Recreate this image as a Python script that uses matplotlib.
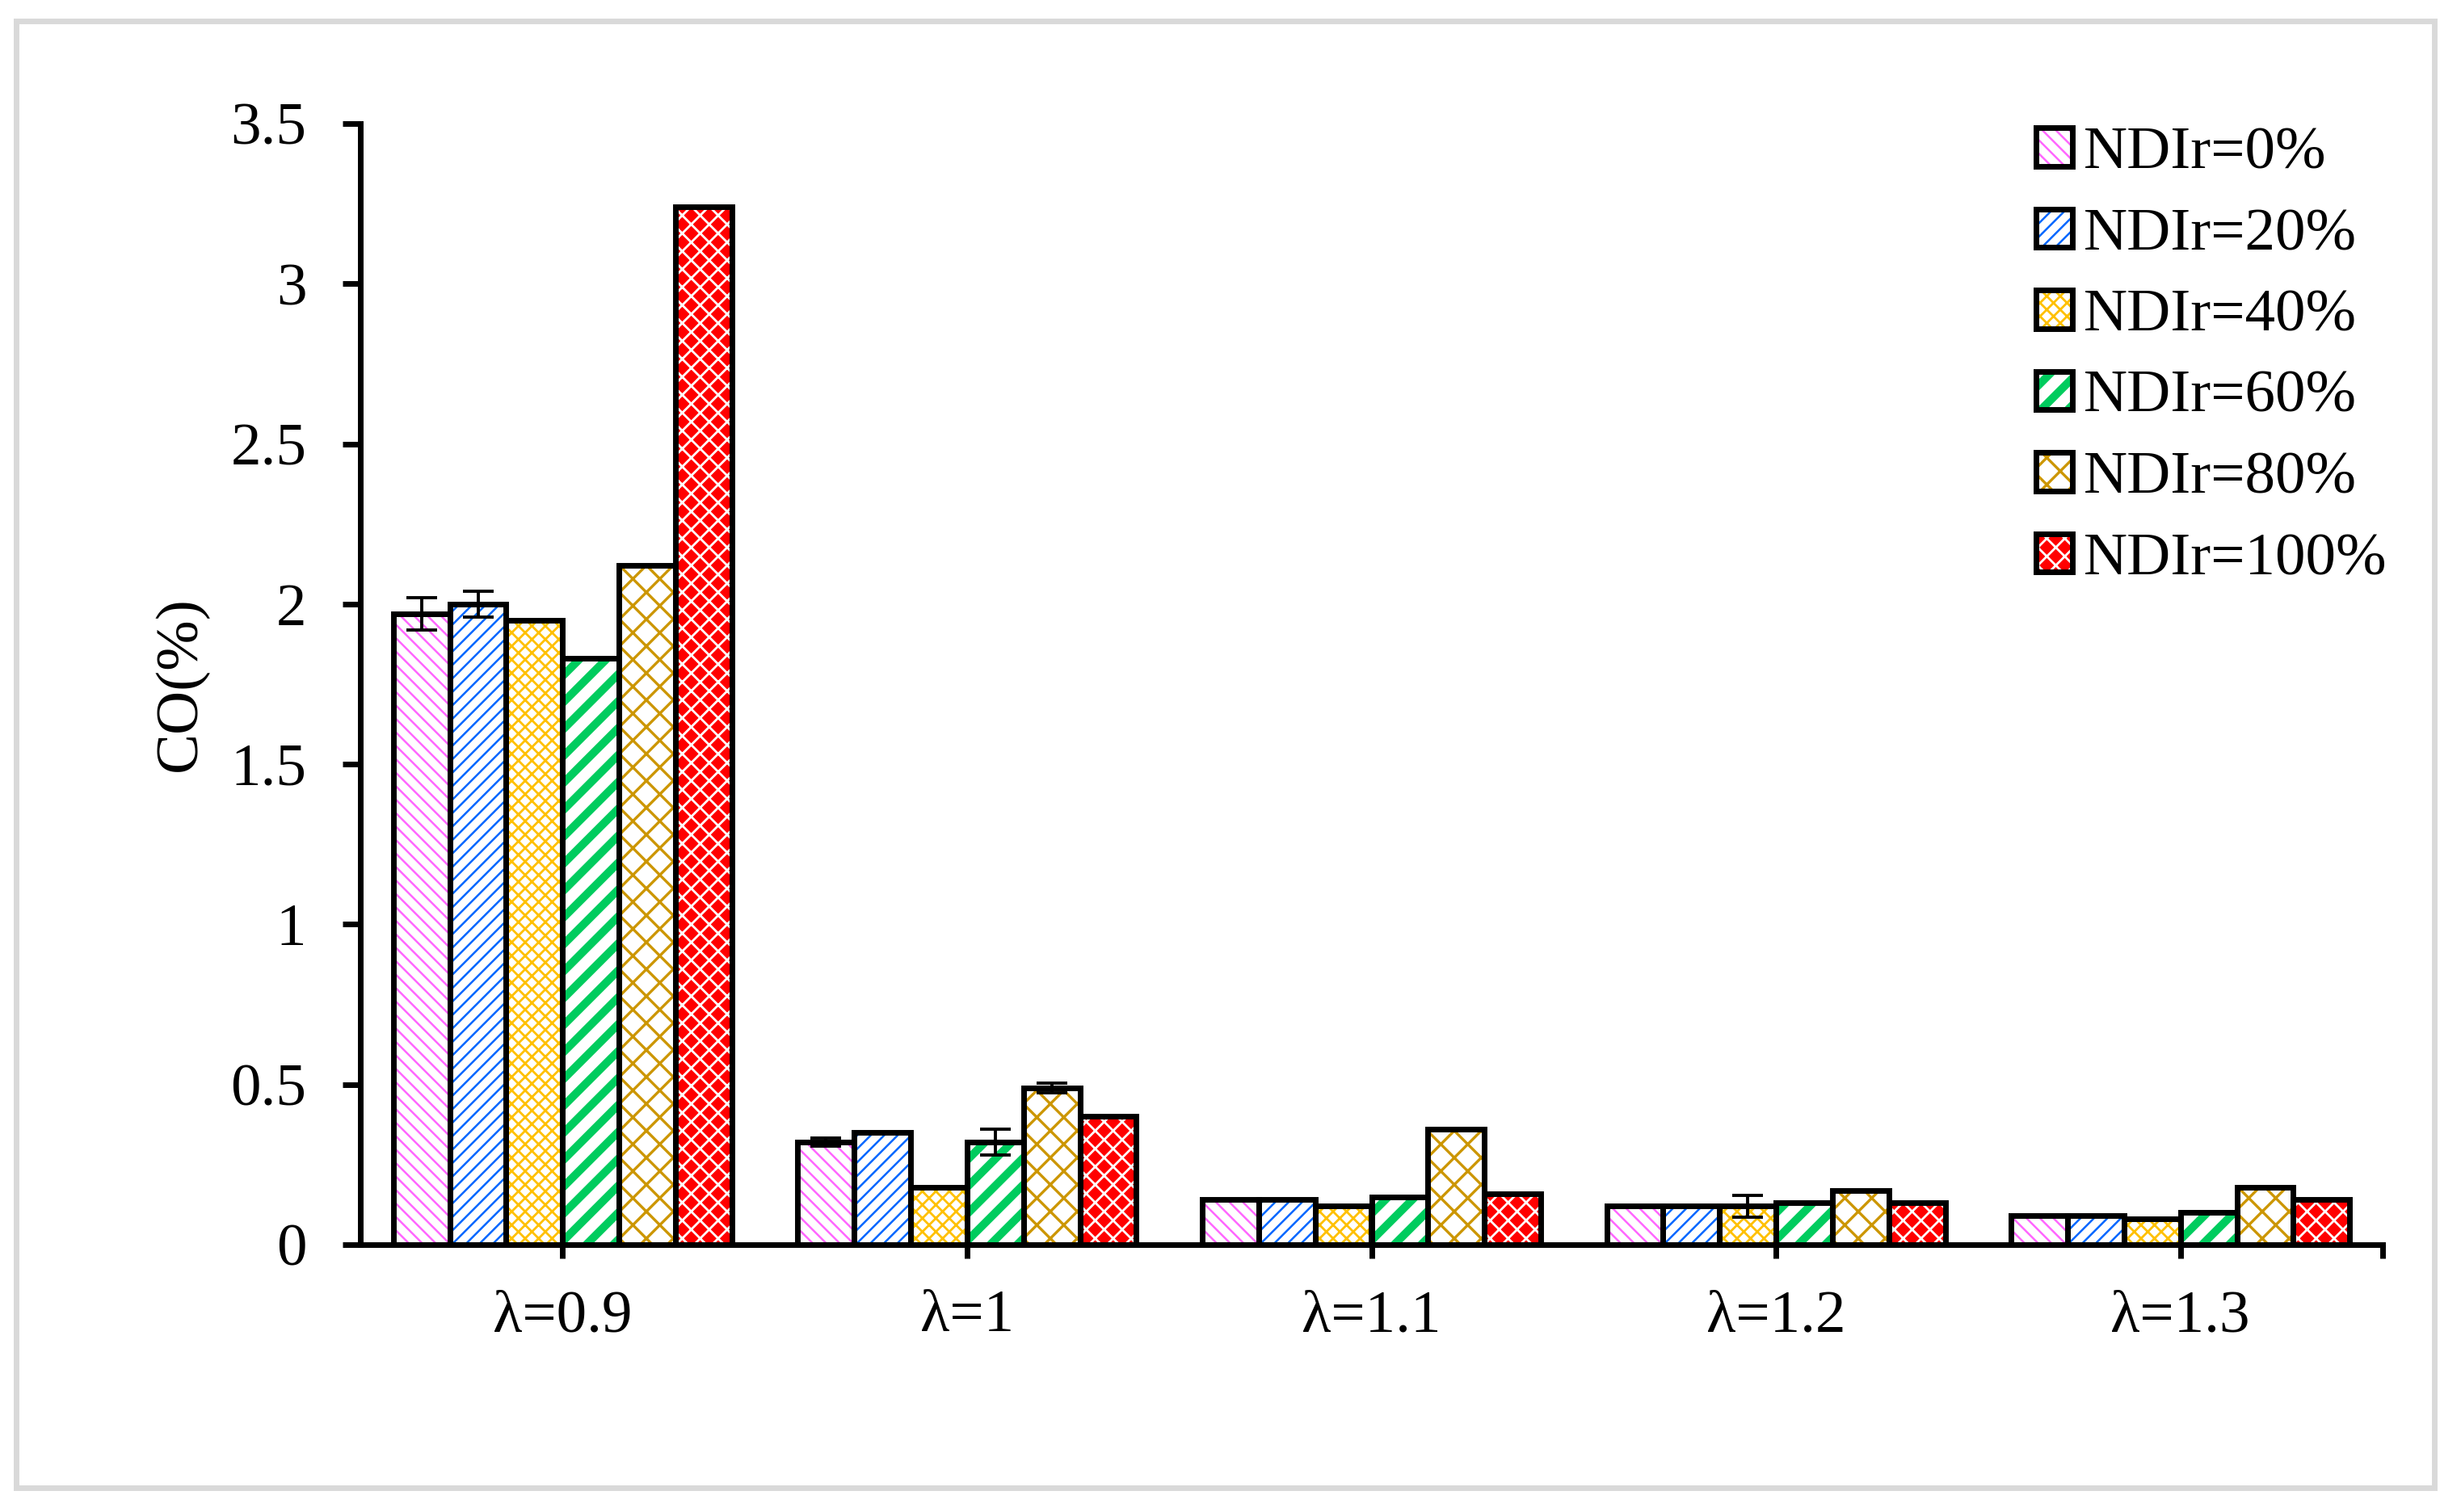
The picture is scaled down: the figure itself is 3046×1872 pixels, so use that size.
import matplotlib
matplotlib.use("Agg")
from matplotlib import pyplot as plt
from matplotlib.patches import Rectangle, Patch
from matplotlib.legend_handler import HandlerTuple, HandlerPatch
import numpy as np


categories = ["λ=0.9", "λ=1", "λ=1.1", "λ=1.2", "λ=1.3"]
series_names = ["NDIr=0%", "NDIr=20%", "NDIr=40%", "NDIr=60%", "NDIr=80%", "NDIr=100%"]

co_ndir0 = [1.97, 0.32, 0.14, 0.12, 0.09]
co_ndir20 = [2.00, 0.35, 0.14, 0.12, 0.09]
co_ndir40 = [1.95, 0.18, 0.12, 0.12, 0.08]
co_ndir60 = [1.83, 0.32, 0.15, 0.13, 0.10]
co_ndir80 = [2.12, 0.49, 0.36, 0.17, 0.18]
co_ndir100 = [3.24, 0.40, 0.16, 0.13, 0.14]

err_ndir0 = [0.05, 0.012, 0, 0, 0]
err_ndir20 = [0.04, 0, 0, 0, 0]
err_ndir40 = [0, 0, 0, 0.035, 0]
err_ndir60 = [0, 0.04, 0, 0, 0]
err_ndir80 = [0, 0.015, 0, 0, 0]
err_ndir100 = [0, 0, 0, 0, 0]

y_ticks = [0, 0.5, 1, 1.5, 2, 2.5, 3, 3.5]
y_tick_labels = ["0", "0.5", "1", "1.5", "2", "2.5", "3", "3.5"]

all_values = [co_ndir0, co_ndir20, co_ndir40, co_ndir60, co_ndir80, co_ndir100]
all_errors = [err_ndir0, err_ndir20, err_ndir40, err_ndir60, err_ndir80, err_ndir100]

# pattern fill styles (hatch colour, face colour, hatch, hatch width)
hatch_colors = ["#ff66ff", "#0066ff", "#ffc000", "#00cc5e", "#cc9600", "white"]
face_colors = ["white", "white", "white", "white", "white", "#ff0000"]
hatches = ["\\\\\\\\", "////", "xxxx", "//", "xx", "xxx"]
hatch_widths = [0.9, 0.9, 1.0, 3.6, 1.2, 1.0]

plt.rcParams["font.family"] = ["Liberation Serif", "DejaVu Serif"]
FS = 27
EDGE = 2.5


def with_hatch_width(patch, lw):
    # per-patch hatch line width, works whether or not the patch supports it
    if hasattr(patch, "set_hatch_linewidth"):
        patch.set_hatch_linewidth(lw)
    orig = patch.draw

    def draw(renderer):
        with plt.rc_context({"hatch.linewidth": lw}):
            orig(renderer)
    patch.draw = draw
    return patch


class HatchHandler(HandlerPatch):
    def __init__(self, lw):
        super().__init__()
        self.lw = lw

    def create_artists(self, legend, orig_handle, xdescent, ydescent, width, height, fontsize, trans):
        arts = super().create_artists(legend, orig_handle, xdescent, ydescent, width, height, fontsize, trans)
        for a in arts:
            with_hatch_width(a, self.lw)
        return arts


fig = plt.figure(figsize=(3046 / 200, 1872 / 200), dpi=200)
ax = fig.add_axes([446 / 3046, 1 - 1541 / 1872, (2949 - 446) / 3046, (1541 - 153) / 1872])

x = np.arange(len(categories))
w = 0.1395
handles = []
handler_map = {tuple: HandlerTuple(ndivide=1, pad=0)}
for i in range(len(series_names)):
    pos = x + (i - 2.5) * w
    hb = ax.bar(pos, all_values[i], w, color=face_colors[i], edgecolor=hatch_colors[i],
                hatch=hatches[i], linewidth=0, zorder=2)
    for p in hb:
        with_hatch_width(p, hatch_widths[i])
    ax.bar(pos, all_values[i], w, fill=False, edgecolor="black", linewidth=EDGE, zorder=3)
    ax.errorbar(pos, all_values[i], yerr=all_errors[i], fmt="none", ecolor="black",
                elinewidth=1.4, capsize=6.8, capthick=1.4, zorder=4)

    hp = Patch(facecolor=face_colors[i], edgecolor=hatch_colors[i], hatch=hatches[i], linewidth=0)
    op = Patch(fill=False, edgecolor="black", linewidth=EDGE)
    handler_map[hp] = HatchHandler(hatch_widths[i])
    handles.append((hp, op))

ax.set_xlim(-0.5, 4.5)
ax.set_ylim(0, 3.5)
ax.set_yticks(y_ticks)
ax.set_yticklabels(y_tick_labels)
ax.set_xticks(x)
ax.set_xticklabels(categories)
ax.set_xticks([4.5], minor=True)

for s in ["top", "right"]:
    ax.spines[s].set_visible(False)
for s in ["left", "bottom"]:
    ax.spines[s].set_linewidth(EDGE)
    ax.spines[s].set_zorder(5)

ax.tick_params(axis="y", length=8, width=EDGE, pad=16, labelsize=FS)
ax.tick_params(axis="x", which="both", length=6, width=EDGE, pad=14, labelsize=FS)

ax.set_ylabel("CO(%)", fontsize=FS)
ax.yaxis.set_label_coords(-0.075, 0.5)

fig.legend(handles, series_names, handler_map=handler_map,
           loc="upper left", bbox_to_anchor=(2520 / 3046, 1 - 157 / 1872), frameon=False,
           fontsize=FS, handlelength=0.6, handleheight=0.6, handletextpad=0.18,
           labelspacing=0.44, borderpad=0, borderaxespad=0)

fig.patches.append(Rectangle((20 / 3046, 1 - 1842 / 1872), (3013 - 20) / 3046, (1842 - 26) / 1872,
                             transform=fig.transFigure, fill=False, edgecolor="#d9d9d9", linewidth=EDGE))

fig.savefig("out.png", dpi=200)
